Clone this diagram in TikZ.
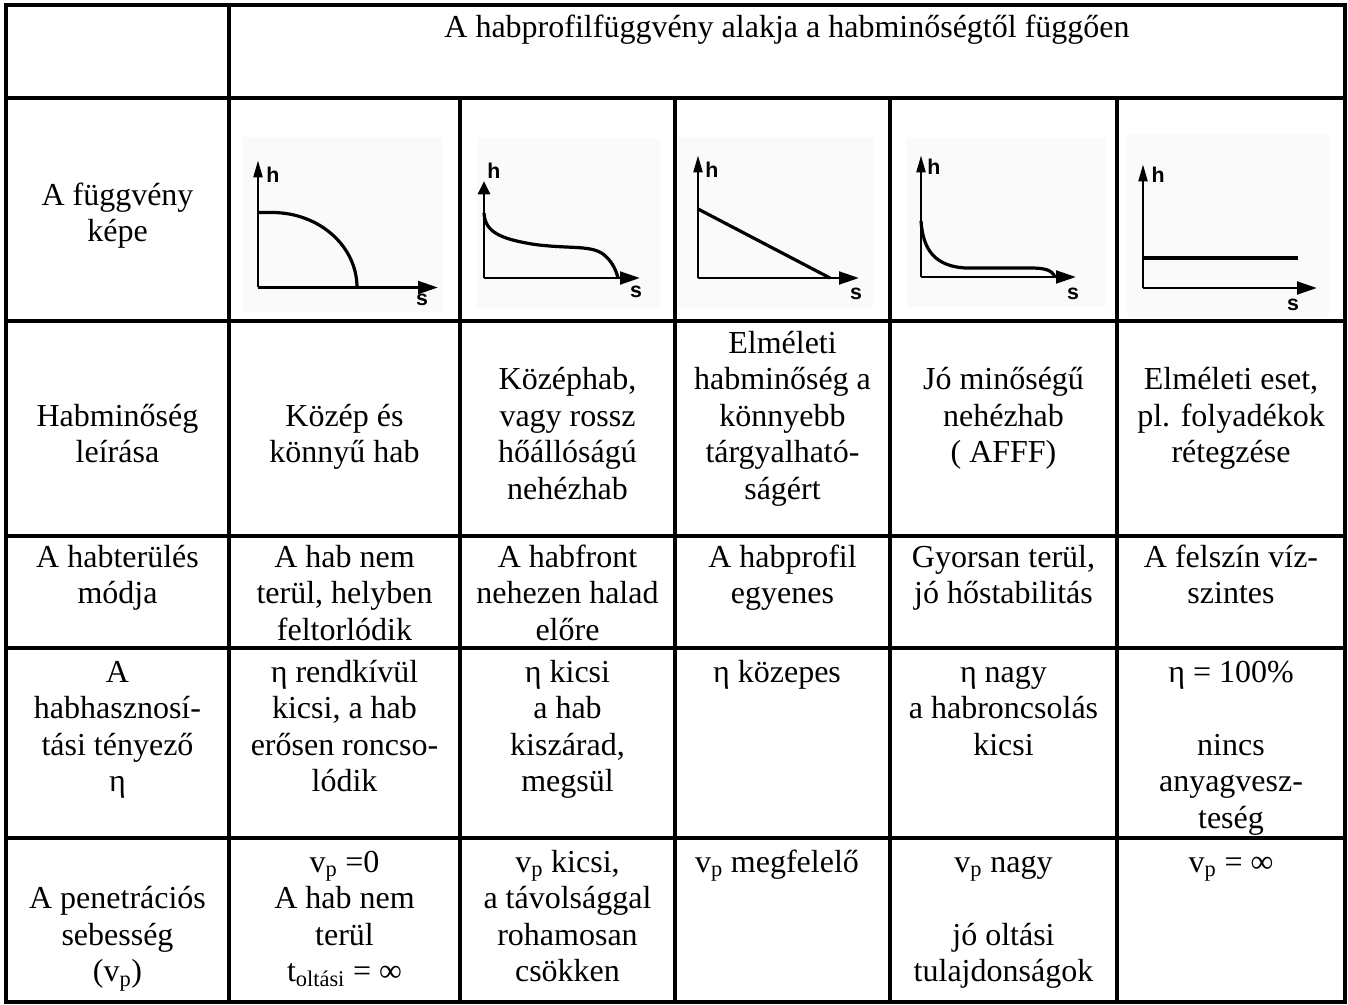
\documentclass[tikz,border=0pt]{standalone}
\usepackage{fontspec}
\setmainfont{Liberation Serif}
\newfontfamily\lblfont{Liberation Sans}
\usetikzlibrary{arrows.meta}
\newcommand\firstln{\rule{0pt}{22pt}}
\newcommand\tabfont{\fontsize{24pt}{27.375pt}\selectfont}
\tikzset{
  cell/.style={anchor=north, inner sep=0pt, outer sep=0pt, align=center, font=\tabfont},
  grid/.style={line width=2.4pt, line cap=rect},
  axis/.style={line width=2.2pt},
  curve/.style={line width=2.4pt},
  lbl/.style={font=\lblfont\bfseries\fontsize{16pt}{18pt}\selectfont, inner sep=0pt},
  bg/.style={fill=black!2, draw=none},
  harr/.style={-{Triangle[length=15pt,width=9.5pt]}},
  varr/.style={-{Triangle[length=13pt,width=6.5pt]}},
  varrb/.style={-{Triangle[length=10pt,width=9pt]}},
}
\begin{document}
\begin{tikzpicture}[x=0.75pt,y=-0.75pt]
\useasboundingbox (0,0) rectangle (1348,1005);
\fill[white] (0,0) rectangle (1348,1005);
% light backgrounds of the plots
\fill[bg] (243,137) rectangle (443,312);
\fill[bg] (477,138) rectangle (660,308);
\fill[bg] (678,137) rectangle (873,308);
\fill[bg] (907,138) rectangle (1106,307);
\fill[bg] (1127,135) rectangle (1329,317);
% table grid
\draw[grid] (6,5) rectangle (1345,1002);
\foreach \y in {98,321,536,648,838} \draw[grid] (6,\y) -- (1345,\y);
\draw[grid] (229,5) -- (229,1002);
\foreach \x in {460,675,890,1117} \draw[grid] (\x,98) -- (\x,1002);
% plot 1
\draw[axis,varr] (258,287.5) -- (258,160);
\draw[axis,harr] (258,287.5) -- (438,287.5);
\draw[curve] (258,212.5) -- (272,212.5) .. controls (319,212.5) and (357,246) .. (357,287.5);
\node[lbl] (h1) at (273,175) {h};
\node[lbl] (s1) at (422,300) {s};
% plot 2
\draw[axis,varrb] (484,278) -- (484,181);
\draw[axis,harr] (484,278) -- (640,278);
\draw[curve] (484,213) .. controls (485,232) and (500,239) .. (535,244.5) .. controls (570,249) and (590,245) .. (603,254) .. controls (612,261) and (616,270) .. (618,278);
\node[lbl] (h2) at (494,171) {h};
\node[lbl] (s2) at (636,292) {s};
% plot 3
\draw[axis,varr] (698,278) -- (698,155);
\draw[axis,harr] (698,278) -- (859,278);
\draw[curve] (698,209) -- (830,278);
\node[lbl] (h3) at (712,170) {h};
\node[lbl] (s3) at (856,294) {s};
% plot 4
\draw[axis,varr] (921,277) -- (921,155);
\draw[axis,harr] (921,277) -- (1076,277);
\draw[curve] (921,221) .. controls (923,250) and (935,266) .. (965,268) -- (1030,268) .. controls (1045,268) and (1052,270) .. (1055,277);
\node[lbl] (h4) at (934,167) {h};
\node[lbl] (s4) at (1073,294) {s};
% plot 5
\draw[axis,varr] (1143,288) -- (1143,164);
\draw[axis,harr] (1143,288) -- (1317,288);
\draw[curve] (1143,258) -- (1298,258);
\node[lbl] (h5) at (1158,175) {h};
\node[lbl] (s5) at (1293,305) {s};
% header
\node[cell] (hdr) at (787,8.67) {\firstln A habprofilfüggvény alakja a habminőségtől függően};
\node[cell] (r1c0) at (117.5,175.67) {\firstln A függvény\\ képe};
% row: Habminőség leírása
\node[cell] (r2c0) at (117.5,396.67) {\firstln Habminőség\\ leírása};
\node[cell] (r2c1) at (344.5,396.67) {\firstln Közép és\\ könnyű hab};
\node[cell] (r2c2) at (567.5,360.17) {\firstln Középhab,\\ vagy rossz\\ hőállóságú\\ nehézhab};
\node[cell] (r2c3) at (782.5,323.67) {\firstln Elméleti\\ habminőség a\\ könnyebb\\ tárgyalható-\\ ságért};
\node[cell] (r2c4) at (1003.5,360.17) {\firstln Jó minőségű\\ nehézhab\\ ( AFFF)};
\node[cell] (r2c5) at (1231,360.17) {\firstln Elméleti eset,\\ pl. folyadékok\\ rétegzése};
% row: A habterülés módja
\node[cell] (r3c0) at (117.5,537.67) {\firstln A habterülés\\ módja};
\node[cell] (r3c1) at (344.5,537.67) {\firstln A hab nem\\ terül, helyben\\ feltorlódik};
\node[cell] (r3c2) at (567.5,537.67) {\firstln A habfront\\ nehezen halad\\ előre};
\node[cell] (r3c3) at (782.5,537.67) {\firstln A habprofil\\ egyenes};
\node[cell] (r3c4) at (1003.5,537.67) {\firstln Gyorsan terül,\\ jó hőstabilitás};
\node[cell] (r3c5) at (1231,537.67) {\firstln A felszín víz-\\ szintes};
% row: habhasznosítási tényező
\node[cell] (r4c0) at (117.5,652.67) {\firstln A\\ habhasznosí-\\ tási tényező\\ η};
\node[cell] (r4c1) at (344.5,652.67) {\firstln η rendkívül\\ kicsi, a hab\\ erősen roncso-\\ lódik};
\node[cell] (r4c2) at (567.5,652.67) {\firstln η kicsi\\ a hab\\ kiszárad,\\ megsül};
\node[cell] (r4c3) at (777,652.67) {\firstln η közepes};
\node[cell] (r4c4) at (1003.5,652.67) {\firstln η nagy\\ a habroncsolás\\ kicsi};
\node[cell] (r4c5) at (1231,652.67) {\firstln η = 100\%\\ \mbox{}\\ nincs\\ anyagvesz-\\ teség};
% row: penetrációs sebesség
\node[cell] (r5c0) at (117.5,879.17) {\firstln A penetrációs\\ sebesség\\ (v\textsubscript{p})};
\node[cell] (r5c1) at (344.5,842.67) {\firstln v\textsubscript{p} =0\\ A hab nem\\ terül\\ t\textsubscript{oltási} = ∞};
\node[cell] (r5c2) at (567.5,842.67) {\firstln v\textsubscript{p} kicsi,\\ a távolsággal\\ rohamosan\\ csökken};
\node[cell] (r5c3) at (777,842.67) {\firstln v\textsubscript{p} megfelelő};
\node[cell] (r5c4) at (1003.5,842.67) {\firstln v\textsubscript{p} nagy\\ \mbox{}\\ jó oltási\\ tulajdonságok};
\node[cell] (r5c5) at (1231,842.67) {\firstln v\textsubscript{p} = ∞};
\end{tikzpicture}
\end{document}
